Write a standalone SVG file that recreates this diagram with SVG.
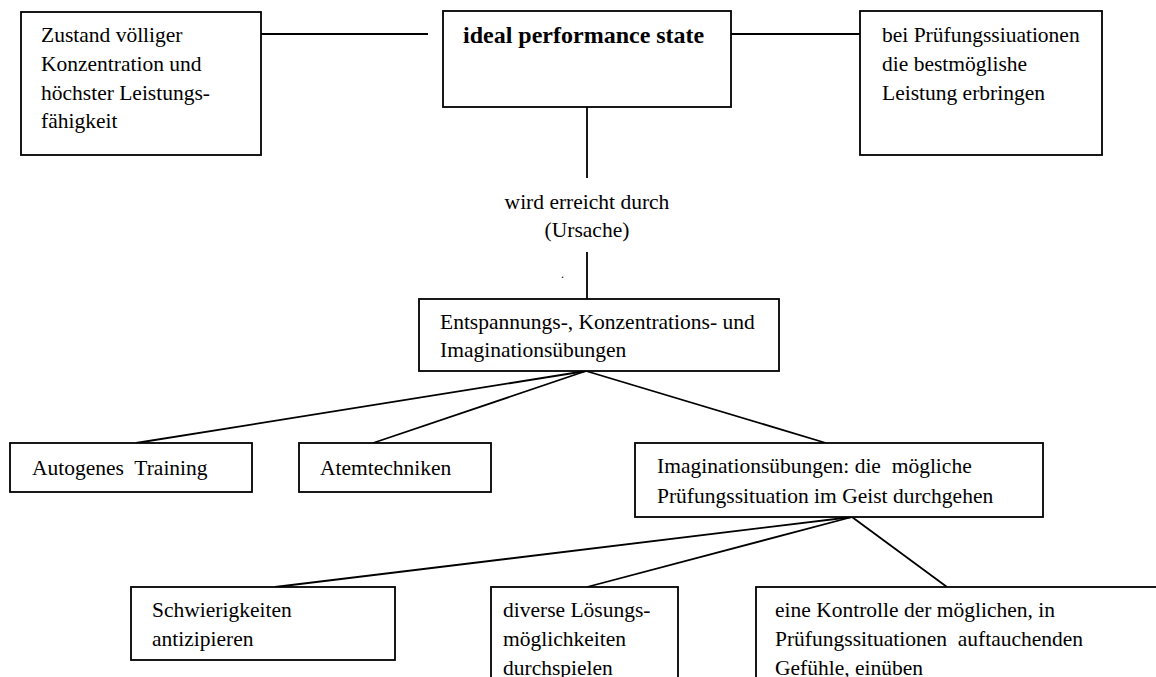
<svg xmlns="http://www.w3.org/2000/svg" width="1156" height="677" viewBox="0 0 1156 677">
<style>
.box{fill:#fff;stroke:#000;stroke-width:1.8}
line{stroke:#000;stroke-width:1.8}
text{font-family:"Liberation Serif","Times New Roman",serif;font-size:21.5px;fill:#000;white-space:pre}
.b{font-weight:bold;font-size:24px}
.c{text-anchor:middle}
</style>
<rect x="0" y="0" width="1156" height="677" fill="#fff"/>
<g id="connectors">
<line x1="261" y1="34" x2="428" y2="34"/>
<line x1="718" y1="34" x2="860" y2="34"/>
<line x1="587" y1="107" x2="587" y2="178"/>
<line x1="587" y1="252" x2="587" y2="299"/>
<line x1="586" y1="371" x2="136" y2="443"/>
<line x1="586" y1="371" x2="373" y2="443"/>
<line x1="586" y1="371" x2="826" y2="443"/>
<line x1="852" y1="517" x2="275" y2="587"/>
<line x1="852" y1="517" x2="587" y2="587"/>
<line x1="852" y1="517" x2="947" y2="587"/>
</g>
<g id="zustand">
<rect class="box" x="21" y="12" width="240" height="143"/>
<text x="41" y="42">Zustand völliger</text>
<text x="41" y="71">Konzentration und</text>
<text x="41" y="100">höchster Leistungs-</text>
<text x="41" y="128">fähigkeit</text>
</g>
<g id="ideal">
<rect class="box" x="443" y="11" width="288" height="96"/>
<text class="b" x="463" y="43">ideal performance state</text>
</g>
<g id="pruefung">
<rect class="box" x="860" y="11" width="242" height="144"/>
<text x="882" y="42">bei Prüfungssiuationen</text>
<text x="882" y="71">die bestmöglishe</text>
<text x="882" y="100">Leistung erbringen</text>
</g>
<g id="label">
<text class="c" x="587" y="209">wird erreicht durch</text>
<text class="c" x="587" y="237">(Ursache)</text>
<text x="561" y="278" style="font-size:12px">.</text>
</g>
<g id="entspannung">
<rect class="box" x="419" y="299" width="360" height="72"/>
<text x="440" y="329">Entspannungs-, Konzentrations- und</text>
<text x="440" y="357">Imaginationsübungen</text>
</g>
<g id="autogenes">
<rect class="box" x="10" y="443" width="242" height="49"/>
<text x="32" y="475">Autogenes  Training</text>
</g>
<g id="atem">
<rect class="box" x="299" y="443" width="192" height="49"/>
<text x="320" y="475">Atemtechniken</text>
</g>
<g id="imagination">
<rect class="box" x="635" y="443" width="408" height="74"/>
<text x="657" y="473">Imaginationsübungen: die  mögliche</text>
<text x="657" y="503">Prüfungssituation im Geist durchgehen</text>
</g>
<g id="schwierigkeiten">
<rect class="box" x="131" y="587" width="264" height="73"/>
<text x="152" y="617">Schwierigkeiten</text>
<text x="152" y="646">antizipieren</text>
</g>
<g id="loesungen">
<rect class="box" x="491" y="587" width="187" height="100"/>
<text x="503" y="617">diverse Lösungs-</text>
<text x="503" y="646">möglichkeiten</text>
<text x="503" y="675">durchspielen</text>
</g>
<g id="kontrolle">
<rect class="box" x="756" y="587" width="420" height="100"/>
<text x="775" y="617">eine Kontrolle der möglichen, in</text>
<text x="775" y="646">Prüfungssituationen  auftauchenden</text>
<text x="775" y="675">Gefühle, einüben</text>
</g>
</svg>
